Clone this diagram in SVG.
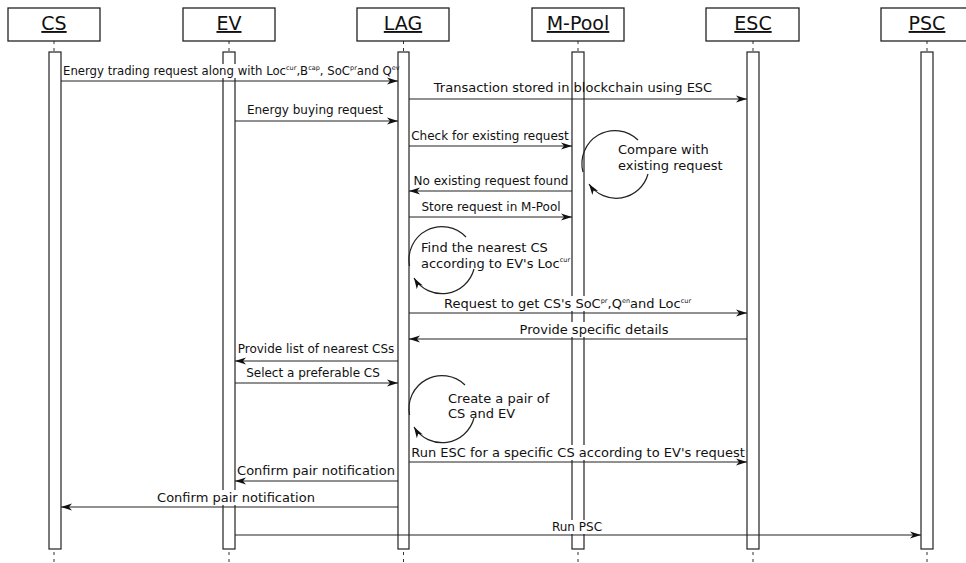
<svg xmlns="http://www.w3.org/2000/svg" width="966" height="563" viewBox="0 0 966 563">
<style>
text{font-family:"DejaVu Sans","Liberation Sans",sans-serif;fill:#111}
.hd{font-size:19px;text-anchor:middle;text-decoration:underline}
.lb{font-size:12px;text-anchor:middle}
.lc{font-size:13px;text-anchor:middle}
.lt{font-size:11.7px}
.lu{font-size:13px}
.sup{font-size:6.5px}
.box{fill:#fff;stroke:#222;stroke-width:1.3}
.bar{fill:#fff;stroke:#222;stroke-width:1.2}
.life{stroke:#333;stroke-width:1;stroke-dasharray:3 4}
.msg{fill:none;stroke:#222;stroke-width:1.2;marker-end:url(#ah)}
.loop{fill:none;stroke:#222;stroke-width:1.2}
.bg{fill:#fff}
</style>
<defs>
<marker id="ah" markerUnits="userSpaceOnUse" markerWidth="12" markerHeight="9" refX="11" refY="4.5" orient="auto">
<path d="M0,1 L11,4.5 L0,8 L3,4.5 z" fill="#111"/>
</marker>
</defs>
<rect width="966" height="563" fill="#fff"/>
<g id="lifelines">
<line class="life" x1="54" y1="41" x2="54" y2="563"/>
<line class="life" x1="229" y1="41" x2="229" y2="563"/>
<line class="life" x1="403.5" y1="41" x2="403.5" y2="563"/>
<line class="life" x1="578" y1="41" x2="578" y2="563"/>
<line class="life" x1="753" y1="41" x2="753" y2="563"/>
<line class="life" x1="927" y1="41" x2="927" y2="563"/>
</g>
<g id="CS">
<rect class="box" x="8" y="8" width="92" height="33"/>
<text class="hd" x="54" y="30">CS</text>
<rect class="bar" x="49" y="52" width="12" height="497"/>
</g>
<g id="EV">
<rect class="box" x="183" y="8" width="92" height="33"/>
<text class="hd" x="229" y="30">EV</text>
<rect class="bar" x="223" y="52" width="12" height="497"/>
</g>
<g id="LAG">
<rect class="box" x="357" y="8" width="92" height="33"/>
<text class="hd" x="403" y="30">LAG</text>
<rect class="bar" x="398" y="52" width="11" height="497"/>
</g>
<g id="MPool">
<rect class="box" x="532" y="8" width="92" height="33"/>
<text class="hd" x="578" y="30">M-Pool</text>
<rect class="bar" x="572" y="52" width="12" height="497"/>
</g>
<g id="ESC">
<rect class="box" x="706" y="8" width="93" height="33"/>
<text class="hd" x="753" y="30">ESC</text>
<rect class="bar" x="747" y="52" width="12" height="497"/>
</g>
<g id="PSC">
<rect class="box" x="881" y="8" width="92" height="33"/>
<text class="hd" x="927" y="30">PSC</text>
<rect class="bar" x="921" y="52" width="12" height="497"/>
</g>
<g id="label-bg">
<rect class="bg" x="63" y="64" width="334" height="14"/>
<rect class="bg" x="443" y="296" width="254" height="15"/>
<rect class="bg" x="518" y="322" width="152" height="15"/>
<rect class="bg" x="412" y="445" width="333" height="15"/>
<rect class="bg" x="156" y="490" width="161" height="15"/>
<rect class="bg" x="551" y="520" width="53" height="14"/>
</g>
<g id="connectors">
<line class="msg" x1="61" y1="81" x2="398" y2="81"/>
<line class="msg" x1="409" y1="99" x2="747" y2="99"/>
<line class="msg" x1="235" y1="121" x2="398" y2="121"/>
<line class="msg" x1="409" y1="146" x2="572" y2="146"/>
<line class="msg" x1="572" y1="191" x2="409" y2="191"/>
<line class="msg" x1="409" y1="217" x2="572" y2="217"/>
<path class="loop" d="M638,140 A33,33 0 0 0 583,172"/>
<path class="msg" d="M648,174 A33,33 0 0 1 589,184"/>
<path class="loop" d="M466,237 A33,33 0 0 0 409.6,266"/>
<path class="msg" d="M474,269 A33,33 0 0 1 414,278"/>
<line class="msg" x1="409" y1="313" x2="747" y2="313"/>
<line class="msg" x1="747" y1="339" x2="409" y2="339"/>
<line class="msg" x1="398" y1="361" x2="235" y2="361"/>
<line class="msg" x1="235" y1="383" x2="398" y2="383"/>
<path class="loop" d="M465,385 A33,33 0 0 0 409.6,415"/>
<path class="msg" d="M474,418 A33,33 0 0 1 414,427"/>
<line class="msg" x1="409" y1="462" x2="747" y2="462"/>
<line class="msg" x1="398" y1="481" x2="235" y2="481"/>
<line class="msg" x1="398" y1="507" x2="61" y2="507"/>
<line class="msg" x1="235" y1="535" x2="921" y2="535"/>
</g>
<g id="labels">
<text class="lt" x="63" y="75">Energy trading request along with Loc<tspan class="sup" dy="-5">cur</tspan><tspan dy="5">,B</tspan><tspan class="sup" dy="-5">cap</tspan><tspan dy="5">, SoC</tspan><tspan class="sup" dy="-5">pr</tspan><tspan dy="5">and Q</tspan><tspan class="sup" dy="-5">ev</tspan></text>
<text class="lc" x="573" y="92">Transaction stored in blockchain using ESC</text>
<text class="lb" x="315" y="114">Energy buying request</text>
<text class="lb" x="490" y="140">Check for existing request</text>
<text class="lb" x="491" y="185">No existing request found</text>
<text class="lb" x="491" y="211">Store request in M-Pool</text>
<text class="lu" x="618" y="154">Compare with</text>
<text class="lu" x="618" y="170">existing request</text>
<text class="lu" x="421" y="252">Find the nearest CS</text>
<text class="lu" x="421" y="268">according to EV's Loc<tspan class="sup" dy="-6">cur</tspan></text>
<text class="lu" x="444" y="308">Request to get CS's SoC<tspan class="sup" dy="-5">pr</tspan><tspan dy="5">,Q</tspan><tspan class="sup" dy="-5">en</tspan><tspan dy="5">and Loc</tspan><tspan class="sup" dy="-5">cur</tspan></text>
<text class="lc" x="594" y="334">Provide specific details</text>
<text class="lb" x="316" y="353">Provide list of nearest CSs</text>
<text class="lb" x="313" y="377">Select a preferable CS</text>
<text class="lu" x="448" y="403">Create a pair of</text>
<text class="lu" x="448" y="418">CS and EV</text>
<text class="lc" x="578" y="457">Run ESC for a specific CS according to EV's request</text>
<text class="lc" x="316" y="475">Confirm pair notification</text>
<text class="lc" x="236" y="502">Confirm pair notification</text>
<text class="lb" x="577" y="531">Run PSC</text>
</g>
</svg>
